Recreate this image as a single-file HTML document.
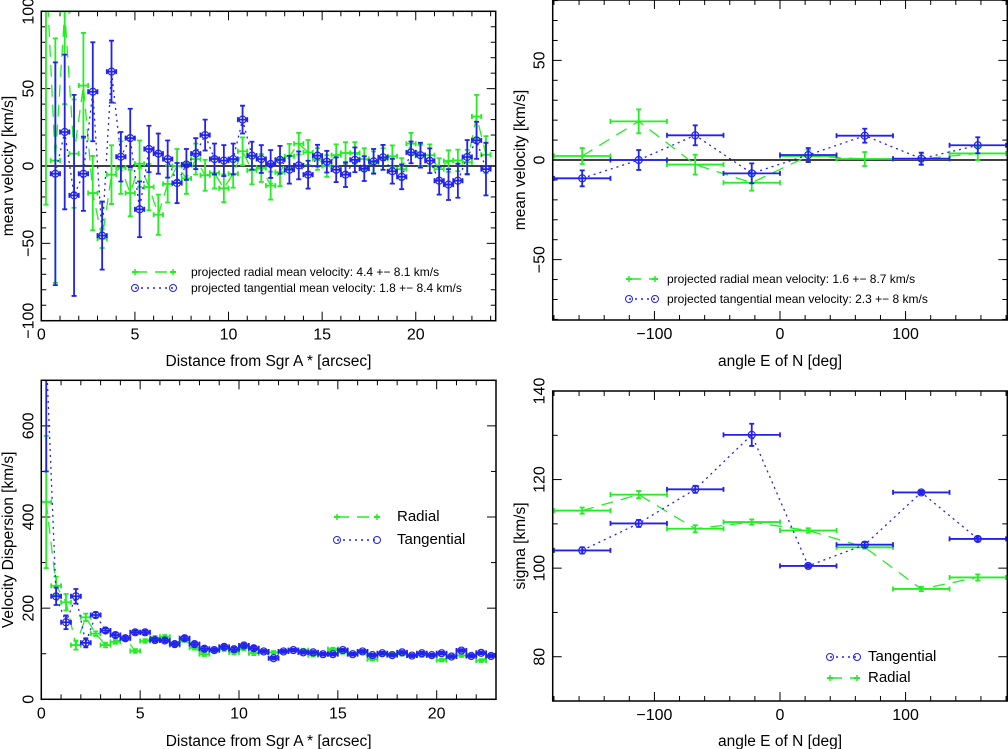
<!DOCTYPE html>
<html><head><meta charset="utf-8"><style>
html,body{margin:0;padding:0;background:#fff;}
svg{display:block;font-family:"Liberation Sans",sans-serif;}
</style></head><body>
<svg id="fig" width="1008" height="749" viewBox="0 0 1008 749"></svg>
<script>
// ---- Panel 1: mean velocity vs distance ----
const p1TanX=[0.75,1.25,1.75,2.25,2.75,3.25,3.75,4.25,4.75,5.25,5.75,6.25,6.75,7.25,7.75,8.25,8.75,9.25,9.75,10.25,10.75,11.25,11.75,12.25,12.75,13.25,13.75,14.25,14.75,15.25,15.75,16.25,16.75,17.25,17.75,18.25,18.75,19.25,19.75,20.25,20.75,21.25,21.75,22.25,22.75,23.25,23.75];
const p1TanY=[-5,22,-19,-5,48,-45,61,6,18,-28,11,8,4.5,-11,1,8,20,4.5,3.5,4.5,30,6.7,4.5,1.3,4,-2.4,0.4,-5.6,6.7,2.8,-2.4,-5.6,4,-1.7,3,5.6,-3.4,-7,8.8,7,3.4,-9.5,-12,-9.5,5.8,16.6,-2];
const p1TanErr=[72,50,65,24,32,22,20,16,19,18,15,13,12,13,10,10,10,10,10,10,9,9,9,9,9,9,9,9,7,7,8,8,8,8,8,8,8,8,7,8,8,9,10,11,11,12,17];
const p1RadX=[0.25,0.75,1.25,1.75,2.25,2.75,3.25,3.75,4.25,4.75,5.25,5.75,6.25,6.75,7.25,7.75,8.25,8.75,9.25,9.75,10.25,10.75,11.25,11.75,12.25,12.75,13.25,13.75,14.25,14.75,15.25,15.75,16.25,16.75,17.25,17.75,18.25,18.75,19.25,19.75,20.25,20.75,21.25,21.75,22.25,22.75,23.25,23.75];
const p1RadY=[130,3.5,100,8,52,-17.5,-47,-5.6,-1,-17.5,1.5,-13.6,-31.5,-11.6,0,-8,4.5,-6,-4.5,-14.4,-5,9.5,-2.8,-1.3,-12.7,-4,6.3,14.4,8.8,4.5,0,7,8.4,8.4,4.5,2.4,4.5,6.3,-2,14.4,6.7,7,-2,3.2,3.6,2.4,32,7.3];
const p1RadErr=[155,79,60,35,34,24,6,19,17,15,15,15,13,12,11,10,10,10,10,9,9,9,9,9,9,9,8,7,8,7,7,7,7,7,7,7,7,7,7,7,7,7,7,7,7,8,14,12];
// ---- Panel 2: mean velocity vs angle ----
const angX=[-157.5,-112.5,-67.5,-22.5,22.5,67.5,112.5,157.5];
const p2RadY=[2,19.4,-2.3,-11.4,2,0.5,0.5,3.3];
const p2RadErr=[4,6,5,4,3,3.5,3,3.5];
const p2TanY=[-9.2,0,12.4,-6.7,2.5,12.2,0.7,7.4];
const p2TanErr=[4,5,5,5,3.5,3.5,3,4];
// ---- Panel 3: dispersion vs distance ----
const p3X=[0.25,0.75,1.25,1.75,2.25,2.75,3.25,3.75,4.25,4.75,5.25,5.75,6.25,6.75,7.25,7.75,8.25,8.75,9.25,9.75,10.25,10.75,11.25,11.75,12.25,12.75,13.25,13.75,14.25,14.75,15.25,15.75,16.25,16.75,17.25,17.75,18.25,18.75,19.25,19.75,20.25,20.75,21.25,21.75,22.25,22.75];
const p3TanY=[760,226,169,226,124,185,151,141,134,147,147,130,129,121,134,121,111,108,115,110,118,112,105,90,105,108,103,103,99,99,108,99,105,97,101,97,103,96,101,97,101,94,107,95,102,95];
const p3TanErr=[260,19,15,16,10,6,5,5,4,4,4,4,4,4,4,4,4,4,4,4,4,4,3,3,3,3,3,3,3,3,3,3,3,3,3,3,3,3,3,3,3,3,3,3,3,3];
const p3RadY=[433,249,213,119,180,144,119,126,134,106,128,135,137,119,130,113,99,108,110,103,112,101,105,103,105,108,108,97,99,110,103,99,103,88,99,100,99,96,96,96,86,94,96,97,85,97];
const p3RadErr=[145,20,18,10,8,5,5,4,4,4,4,4,4,4,4,4,4,4,4,4,4,4,3,3,3,3,3,3,3,3,3,3,3,3,3,3,3,3,3,3,3,3,3,3,3,3];
// ---- Panel 4: sigma vs angle ----
const p4TanY=[104,110.1,117.8,130.1,100.5,105.3,117.1,106.6];
const p4TanErr=[0.7,0.8,0.8,2.5,0.4,0.6,0.4,0.5];
const p4RadY=[113,116.6,108.9,110.4,108.5,104.7,95.3,97.9];
const p4RadErr=[0.7,0.8,0.8,0.6,0.5,0.3,0.5,0.7];

const NS='http://www.w3.org/2000/svg';
const svg=document.getElementById('fig');
const GREEN='#22ee22', BLUE='#2222ee';
function mk(tag,attrs,parent){const e=document.createElementNS(NS,tag);for(const k in attrs)e.setAttribute(k,attrs[k]);(parent||svg).appendChild(e);return e;}

function panel(cfg){
  const g=mk('g',{});
  
  
  const {x0,x1,y0,y1,xmin,xmax,ymin,ymax}=cfg;
  const sx=v=>x0+(v-xmin)/(xmax-xmin)*(x1-x0);
  const sy=v=>y1-(v-ymin)/(ymax-ymin)*(y1-y0);
  const cid='clip-'+cfg.name;
  const cp=mk('clipPath',{id:cid},g);
  mk('rect',{x:x0,y:y0,width:x1-x0,height:y1-y0},cp);
  const tg=mk('g',{stroke:'#000','stroke-width':1},g);
  
  
  const eps=1e-6;
  for(let v=Math.ceil(xmin/cfg.xminor)*cfg.xminor;v<=xmax+eps;v+=cfg.xminor){
    const major=Math.abs(v/cfg.xmajor-Math.round(v/cfg.xmajor))<1e-6;
    const L=major?9:5,X=sx(v);
    mk('line',{x1:X,y1:y1,x2:X,y2:y1-L},tg);mk('line',{x1:X,y1:y0,x2:X,y2:y0+L},tg);
    if(major){const t=mk('text',{x:X,y:y1+19,'text-anchor':'middle','font-size':16,fill:'#000',stroke:'none'},g);t.textContent=String(Math.round(v)).replace('-','\u2212');
      }
  }
  for(let v=Math.ceil(ymin/cfg.yminor)*cfg.yminor;v<=ymax+eps;v+=cfg.yminor){
    const major=Math.abs(v/cfg.ymajor-Math.round(v/cfg.ymajor))<1e-6;
    const L=major?9:5,Y=sy(v);
    mk('line',{x1:x0,y1:Y,x2:x0+L,y2:Y},tg);mk('line',{x1:x1,y1:Y,x2:x1-L,y2:Y},tg);
    if(major){const t=mk('text',{x:0,y:0,transform:`translate(${x0-8},${Y}) rotate(-90)`,'text-anchor':'middle','font-size':16,fill:'#000'},g);t.textContent=String(Math.round(v)).replace('-','\u2212');
      }
  }
  if(cfg.zero){const z=mk('line',{x1:x0,x2:x1,y1:sy(0),y2:sy(0),stroke:'#000','stroke-width':1.5},g);}
  const dg=mk('g',{'clip-path':`url(#${cid})`},g);
  
  
  cfg.series.forEach(s=>{
    const sg=mk('g',{},dg);
    
    
    const pts=s.x.map((xv,i)=>sx(xv).toFixed(1)+','+sy(s.y[i]).toFixed(1)).join(' ');
    mk('polyline',{points:pts,fill:'none',stroke:s.color,'stroke-width':1.3,'stroke-dasharray':s.dash},sg);
    s.x.forEach((xv,i)=>{
      const X=sx(xv),Y=sy(s.y[i]);
      const m=mk('g',{stroke:s.color,'stroke-width':1.8,fill:'none'},sg);
      
      
      const xa=sx(xv-s.hw),xb=sx(xv+s.hw),ya=sy(s.y[i]+s.err[i]),yb=sy(s.y[i]-s.err[i]);
      mk('line',{x1:xa,x2:xb,y1:Y,y2:Y},m);
      mk('line',{x1:X,x2:X,y1:ya,y2:yb},m);
      mk('line',{x1:xa,x2:xa,y1:Y-2.5,y2:Y+2.5},m);mk('line',{x1:xb,x2:xb,y1:Y-2.5,y2:Y+2.5},m);
      mk('line',{x1:X-2.5,x2:X+2.5,y1:ya,y2:ya},m);mk('line',{x1:X-2.5,x2:X+2.5,y1:yb,y2:yb},m);
      if(s.circle)mk('circle',{cx:X,cy:Y,r:3.5,'stroke-width':1.2},m);
    });
  });
  mk('rect',{x:x0,y:y0,width:x1-x0,height:y1-y0,fill:'none',stroke:'#000','stroke-width':1.5},g);
  const xt=mk('text',{x:(x0+x1)/2,y:cfg.xtitleY,'text-anchor':'middle','font-size':15.5,fill:'#000'},g);
  xt.textContent=cfg.xtitle;
  const yt=mk('text',{x:0,y:0,transform:`translate(${cfg.ytitleX},${(y0+y1)/2}) rotate(-90)`,'text-anchor':'middle','font-size':15.5,fill:'#000'},g);
  yt.textContent=cfg.ytitle;
  cfg.legend.forEach(l=>{
    const lg=mk('g',{},g);
    
    
    mk('line',{x1:l.lx0,x2:l.lx1,y1:l.y,y2:l.y,stroke:l.color,'stroke-width':1.5,'stroke-dasharray':l.dash},lg);
    if(l.circle){mk('circle',{cx:l.lx0,cy:l.y,r:3.5,fill:'none',stroke:l.color},lg);mk('circle',{cx:l.lx1,cy:l.y,r:3.5,fill:'none',stroke:l.color},lg);}
    else{[l.lx0,l.lx1].forEach(px=>{mk('line',{x1:px-3,x2:px+3,y1:l.y,y2:l.y,stroke:l.color,'stroke-width':2},lg);mk('line',{x1:px,x2:px,y1:l.y-3,y2:l.y+3,stroke:l.color,'stroke-width':1.5},lg);});}
    const t=mk('text',{x:l.tx,y:l.y+4,'font-size':l.fs,fill:'#000'},lg);t.textContent=l.text;
  });
}
const GD='12,8', BD='2,4';
panel({name:'radial-velocity-panel',x0:41.3,x1:495.7,y0:11.3,y1:320.7,xmin:0,xmax:24.27,ymin:-100,ymax:100,xmajor:5,xminor:1,ymajor:50,yminor:10,zero:true,
  xtitle:'Distance from Sgr A * [arcsec]',xtitleY:366,ytitle:'mean velocity [km/s]',ytitleX:13,
  series:[{name:'radial-series',x:p1RadX,y:p1RadY,err:p1RadErr,hw:0.25,color:GREEN,dash:GD},
          {name:'tangential-series',x:p1TanX,y:p1TanY,err:p1TanErr,hw:0.25,color:BLUE,dash:BD,circle:true}],
  legend:[{lx0:135,lx1:173,y:272,color:GREEN,dash:GD,tx:191,fs:12,text:'projected radial mean velocity: 4.4 +\u2212 8.1 km/s'},
          {lx0:135,lx1:173,y:288,color:BLUE,dash:BD,circle:true,tx:191,fs:12,text:'projected tangential mean velocity: 1.8 +\u2212 8.4 km/s'}]});
panel({name:'angle-velocity-panel',x0:552.7,x1:1007.3,y0:0,y1:320,xmin:-181,xmax:181,ymin:-80.3,ymax:80.3,xmajor:100,xminor:20,ymajor:50,yminor:10,zero:true,
  xtitle:'angle E of N [deg]',xtitleY:366,ytitle:'mean velocity [km/s]',ytitleX:525,
  series:[{name:'radial-series',x:angX,y:p2RadY,err:p2RadErr,hw:22.5,color:GREEN,dash:GD},
          {name:'tangential-series',x:angX,y:p2TanY,err:p2TanErr,hw:22.5,color:BLUE,dash:BD,circle:true}],
  legend:[{lx0:629,lx1:655,y:279,color:GREEN,dash:GD,tx:667,fs:12,text:'projected radial mean velocity: 1.6 +\u2212 8.7 km/s'},
          {lx0:629,lx1:655,y:299,color:BLUE,dash:BD,circle:true,tx:667,fs:12,text:'projected tangential mean velocity: 2.3 +\u2212 8 km/s'}]});
panel({name:'dispersion-panel',x0:41.3,x1:496,y0:380.3,y1:699.3,xmin:0,xmax:23,ymin:0,ymax:700,xmajor:5,xminor:1,ymajor:200,yminor:100,zero:false,
  xtitle:'Distance from Sgr A * [arcsec]',xtitleY:746,ytitle:'Velocity Dispersion [km/s]',ytitleX:13,
  series:[{name:'radial-series',x:p3X,y:p3RadY,err:p3RadErr,hw:0.25,color:GREEN,dash:GD},
          {name:'tangential-series',x:p3X,y:p3TanY,err:p3TanErr,hw:0.25,color:BLUE,dash:BD,circle:true}],
  legend:[{lx0:337,lx1:377,y:517,color:GREEN,dash:GD,tx:397,fs:15,text:'Radial'},
          {lx0:337,lx1:377,y:540,color:BLUE,dash:BD,circle:true,tx:397,fs:15,text:'Tangential'}]});
panel({name:'sigma-angle-panel',x0:552.7,x1:1007.3,y0:391,y1:701,xmin:-181,xmax:181,ymin:70,ymax:140,xmajor:100,xminor:20,ymajor:20,yminor:10,zero:false,
  xtitle:'angle E of N [deg]',xtitleY:746,ytitle:'sigma [km/s]',ytitleX:525,
  series:[{name:'radial-series',x:angX,y:p4RadY,err:p4RadErr,hw:22.5,color:GREEN,dash:GD},
          {name:'tangential-series',x:angX,y:p4TanY,err:p4TanErr,hw:22.5,color:BLUE,dash:BD,circle:true}],
  legend:[{lx0:830,lx1:857,y:657,color:BLUE,dash:BD,circle:true,tx:868,fs:15,text:'Tangential'},
          {lx0:830,lx1:857,y:678,color:GREEN,dash:GD,tx:868,fs:15,text:'Radial'}]});
</script>
</body></html>
